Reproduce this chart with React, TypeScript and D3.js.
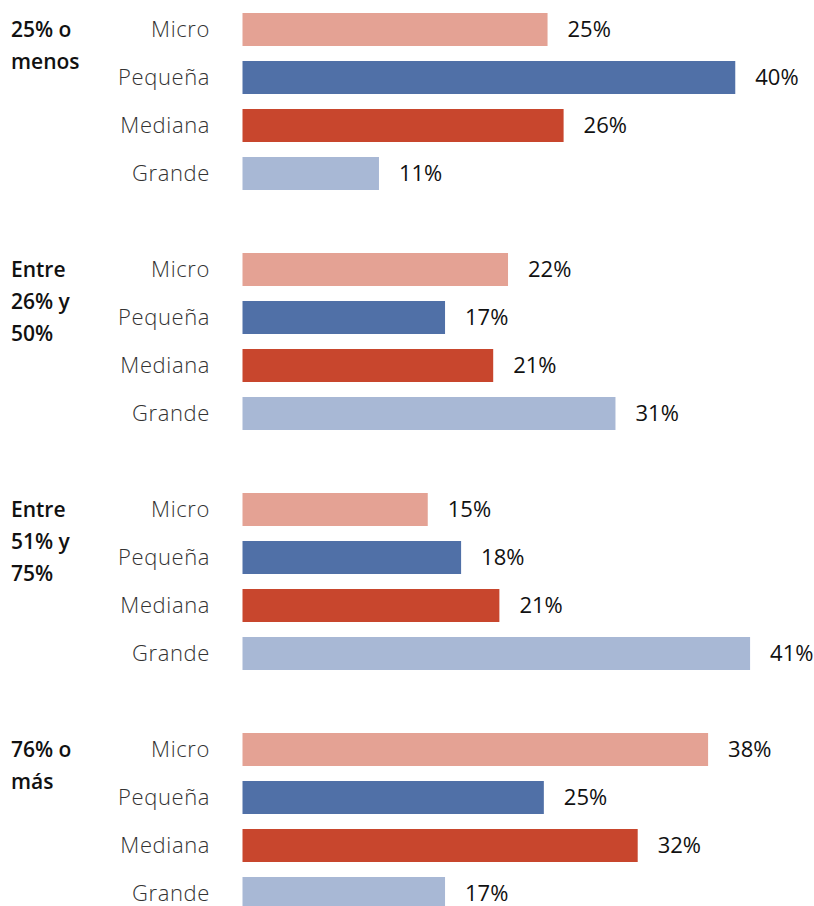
import React from "react"
import * as d3 from "d3"

const WIDTH = 814
const HEIGHT = 906

const groups = ["25% o menos", "Entre 26% y 50%", "Entre 51% y 75%", "76% o más"]
const groupLines = [
    ["25% o", "menos"],
    ["Entre", "26% y", "50%"],
    ["Entre", "51% y", "75%"],
    ["76% o", "más"],
]
const sizes = ["Micro", "Pequeña", "Mediana", "Grande"]
const colors = ["#E4A294", "#5070A7", "#C8462D", "#A8B8D5"]

// bar lengths (percent)
const micro = [24.7, 21.5, 15.0, 37.7]
const pequena = [39.9, 16.4, 17.7, 24.4]
const mediana = [26.0, 20.3, 20.8, 32.0]
const grande = [11.05, 30.2, 41.1, 16.4]
const series = [micro, pequena, mediana, grande]

// printed labels
const microLabels = ["25%", "22%", "15%", "38%"]
const pequenaLabels = ["40%", "17%", "18%", "25%"]
const medianaLabels = ["26%", "21%", "21%", "32%"]
const grandeLabels = ["11%", "31%", "41%", "17%"]
const labels = [microLabels, pequenaLabels, medianaLabels, grandeLabels]

const X0 = 242.5
const PX_PER_PCT = 12.35

const App: React.FC = () => {
    const x = d3.scaleLinear().domain([0, 45]).range([X0, X0 + 45 * PX_PER_PCT])

    const gy = d3.scaleBand<string>().domain(groups).range([0, 960])

    const sy = d3
        .scaleBand<string>()
        .domain(sizes)
        .range([5.5, 197.5])
        .paddingInner(0.3125)
        .paddingOuter(0.15625)

    return (
        <svg
            width={WIDTH}
            height={HEIGHT}
            style={{ position: "absolute", left: 0, top: 0, background: "#fff" }}
        >
            {groups.map((g, gi) => {
                const top = gy(g)!
                const firstCenter = top + sy(sizes[0])! + sy.bandwidth() / 2
                return (
                    <g key={g}>
                        <text
                            x={11}
                            fontFamily="'Open Sans', sans-serif"
                            fontWeight={600}
                            fontSize={21}
                            fill="#111"
                        >
                            {groupLines[gi].map((line, li) => (
                                <tspan key={li} x={11} y={firstCenter + 7 + li * 32}>
                                    {line}
                                </tspan>
                            ))}
                        </text>
                        {sizes.map((s, si) => {
                            const v = series[si][gi]
                            const y = top + sy(s)!
                            const cy = y + sy.bandwidth() / 2
                            return (
                                <g key={s}>
                                    <text
                                        x={210}
                                        y={cy}
                                        dy="0.35em"
                                        textAnchor="end"
                                        fontFamily="'Open Sans', sans-serif"
                                        fontWeight={300}
                                        fontSize={22}
                                        letterSpacing={0.6}
                                        fill="#333"
                                    >
                                        {s}
                                    </text>
                                    <rect
                                        x={x(0)}
                                        y={y}
                                        width={x(v) - x(0)}
                                        height={sy.bandwidth()}
                                        fill={colors[si]}
                                    />
                                    <text
                                        x={x(v) + 20}
                                        y={cy}
                                        dy="0.35em"
                                        fontFamily="'Open Sans', sans-serif"
                                        fontWeight={500}
                                        fontSize={22}
                                        fill="#111"
                                    >
                                        {labels[si][gi]}
                                    </text>
                                </g>
                            )
                        })}
                    </g>
                )
            })}
        </svg>
    )
}

export default App
